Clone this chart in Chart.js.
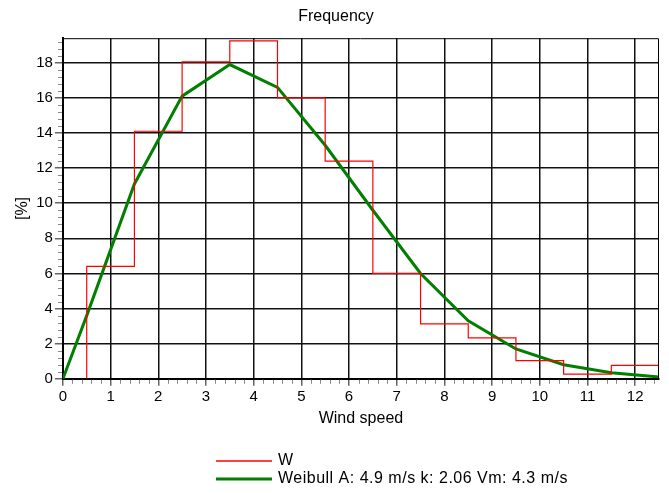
<!DOCTYPE html>
<html>
<head>
<meta charset="utf-8">
<script src="https://cdn.jsdelivr.net/npm/chart.js@4.4.0/dist/chart.umd.min.js"></script>
<style>
    html, body { margin: 0; padding: 0; background: #fff; }
    #wrap { width: 669px; height: 493px; }
</style>
</head>
<body>
<div id="wrap"><canvas id="freqChart"></canvas></div>
<script>
// measured wind: bins centred on each integer speed, 1 m/s wide
const binCenters = [1, 2, 3, 4, 5, 6, 7, 8, 9, 10, 11, 12];
const binFreq = [6.4, 14.1, 18.05, 19.25, 16.0, 12.4, 6.0, 3.13, 2.33, 1.03, 0.27, 0.76];

// fitted weibull curve
const weibullSpeed = [0, 0.5, 1.5, 2.5, 3.5, 4.5, 5.5, 6.5, 7.5, 8.5, 9.5, 10.5, 11.5, 12.5];
const weibullFreq = [0, 3.6, 11.1, 16.1, 17.9, 16.6, 13.3, 9.6, 6.0, 3.3, 1.7, 0.8, 0.35, 0.1];

const seriesLabels = ['W', 'Weibull A: 4.9 m/s k: 2.06 Vm: 4.3 m/s'];

const FONT = 'Liberation Sans, Arial, sans-serif';

// step outline for the histogram
const stepData = [{ x: binCenters[0] - 0.5, y: 0 }];
binCenters.forEach((c, i) => stepData.push({ x: c - 0.5, y: binFreq[i] }));
const lastC = binCenters[binCenters.length - 1];
stepData.push({ x: lastC + 0.5, y: binFreq[binFreq.length - 1] });
stepData.push({ x: lastC + 0.5, y: 0 });

const weibullData = weibullSpeed.map((v, i) => ({ x: v, y: weibullFreq[i] }));

function isMultiple(v, step) {
    return Math.abs(v / step - Math.round(v / step)) < 1e-6;
}

// frame, minor ticks
const frameAndMinor = {
    id: 'frameAndMinor',
    afterDatasetsDraw(chart) {
        const { ctx, chartArea: a, scales: { x, y } } = chart;
        ctx.save();
        ctx.strokeStyle = '#000';
        ctx.lineWidth = 1;
        ctx.beginPath();
        ctx.moveTo(a.left, a.top + 0.5);
        ctx.lineTo(a.right - 0.5, a.top + 0.5);
        ctx.lineTo(a.right - 0.5, a.bottom);
        ctx.stroke();

        ctx.strokeStyle = '#888';
        ctx.beginPath();
        for (let k = 1; k <= 62; k++) {
            if (k % 5 === 0) continue;
            const px = Math.round(x.getPixelForValue(k * 0.2)) + 0.5;
            ctx.moveTo(px, a.bottom + 1);
            ctx.lineTo(px, a.bottom + 5);
        }
        for (let k = 1; k <= 48; k++) {
            if (k % 5 === 0) continue;
            const py = Math.round(y.getPixelForValue(k * 0.4)) + 0.5;
            ctx.moveTo(a.left - 5, py);
            ctx.lineTo(a.left - 1, py);
        }
        ctx.stroke();
        ctx.restore();
    }
};

// two-row legend under the axis title
const legendRows = {
    id: 'legendRows',
    afterDraw(chart) {
        const ctx = chart.ctx;
        ctx.save();
        ctx.font = '16px ' + FONT;
        ctx.letterSpacing = '0.5px';
        ctx.textBaseline = 'middle';
        ctx.fillStyle = '#000';
        chart.data.datasets.forEach((ds, i) => {
            const yy = 461 + i * 18;
            ctx.strokeStyle = ds.borderColor;
            ctx.lineWidth = i === 0 ? 1.5 : 3;
            ctx.beginPath();
            ctx.moveTo(216, yy);
            ctx.lineTo(272, yy);
            ctx.stroke();
            ctx.fillText(ds.label, 278, yy);
        });
        ctx.restore();
    }
};

const ctx = document.getElementById('freqChart').getContext('2d');
new Chart(ctx, {
    type: 'line',
    data: {
        datasets: [{
            label: seriesLabels[0],
            data: stepData,
            stepped: 'before',
            borderColor: '#ff0000',
            borderWidth: 1.2,
            pointRadius: 0,
            fill: false
        }, {
            label: seriesLabels[1],
            data: weibullData,
            borderColor: '#007f00',
            borderWidth: 3,
            pointRadius: 0,
            tension: 0,
            fill: false
        }]
    },
    options: {
        responsive: true,
        maintainAspectRatio: false,
        animation: false,
        layout: { padding: { left: 13, right: 10, top: 0, bottom: 65 } },
        plugins: {
            legend: { display: false },
            tooltip: { enabled: false },
            title: {
                display: true,
                text: 'Frequency',
                color: '#000',
                font: { family: FONT, size: 16, weight: 'normal' },
                padding: { top: 7, bottom: 12 }
            }
        },
        scales: {
            x: {
                type: 'linear',
                min: 0,
                max: 12.5,
                border: { color: '#000', width: 2 },
                grid: {
                    color: c => isMultiple(c.tick.value, 1) && c.tick.value > 0 ? '#111' : 'rgba(0,0,0,0)',
                    lineWidth: 1.5,
                    tickColor: '#666',
                    tickLength: 7
                },
                ticks: {
                    stepSize: 1,
                    includeBounds: false,
                    autoSkip: false,
                    maxRotation: 0,
                    color: '#000',
                    padding: 2,
                    font: { family: FONT, size: 15 }
                },
                title: {
                    display: true,
                    text: 'Wind speed',
                    color: '#000',
                    font: { family: FONT, size: 16 },
                    padding: { top: 1, bottom: 0 }
                }
            },
            y: {
                min: 0,
                max: 19.4,
                border: { color: '#000', width: 2 },
                grid: {
                    color: c => c.tick.value > 0 ? '#111' : 'rgba(0,0,0,0)',
                    lineWidth: 1.5,
                    tickColor: '#666',
                    tickLength: 8
                },
                ticks: {
                    stepSize: 2,
                    includeBounds: false,
                    autoSkip: false,
                    color: '#000',
                    padding: 2,
                    font: { family: FONT, size: 15 }
                },
                title: {
                    display: true,
                    text: '[%]',
                    color: '#000',
                    font: { family: FONT, size: 16 },
                    padding: { top: 0, bottom: 2 }
                }
            }
        }
    },
    plugins: [frameAndMinor, legendRows]
});
</script>
</body>
</html>
